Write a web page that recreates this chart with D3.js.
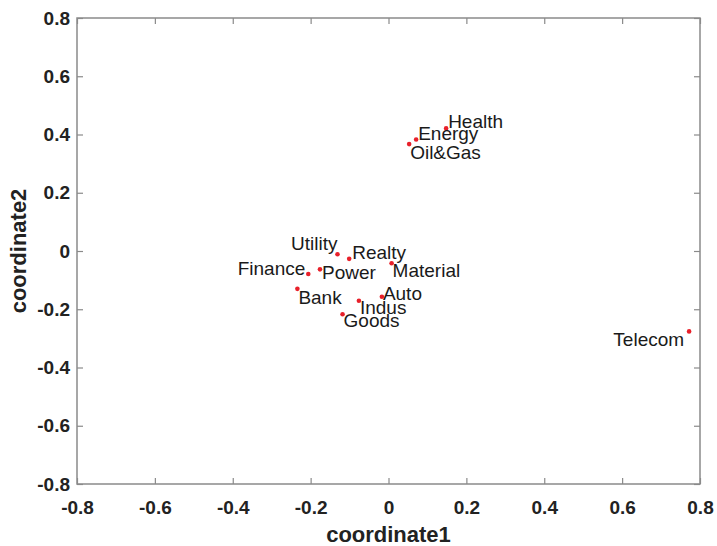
<!DOCTYPE html>
<html>
<head>
<meta charset="utf-8">
<script src="https://cdn.jsdelivr.net/npm/d3@7"></script>
<style>
  body { margin: 0; background: #fff; }
  svg { display: block; }
</style>
</head>
<body>
<div id="chart"></div>
<script>
(function() {

  // sector names and their two coordinates
  var sectors = ['Utility', 'Realty', 'Material', 'Finance', 'Power', 'Bank', 'Auto',
                 'Indus', 'Goods', 'Health', 'Energy', 'Oil&Gas', 'Telecom'];
  var coord1 = [-0.131, -0.101, 0.008, -0.206, -0.176, -0.234, -0.017,
                -0.076, -0.118, 0.148, 0.071, 0.053, 0.772];
  var coord2 = [-0.011, -0.027, -0.042, -0.079, -0.063, -0.130, -0.157,
                -0.171, -0.217, 0.421, 0.383, 0.367, -0.276];
  var ticks = [-0.8, -0.6, -0.4, -0.2, 0, 0.2, 0.4, 0.6, 0.8];
  var tickLabels = ['-0.8', '-0.6', '-0.4', '-0.2', '0', '0.2', '0.4', '0.6', '0.8'];

  // label placement next to each point: [dx, dy, anchor]
  var place = {
    'Utility': [0, -11, 'end'], 'Realty': [3, -7, 'start'], 'Material': [1, 7, 'start'],
    'Finance': [-3, -6, 'end'], 'Power': [2, 3, 'start'], 'Bank': [1, 8, 'start'],
    'Auto': [1, -3, 'start'], 'Indus': [1, 7, 'start'], 'Goods': [1, 6, 'start'],
    'Health': [2, -7, 'start'], 'Energy': [2, -6, 'start'], 'Oil&Gas': [1, 8, 'start'],
    'Telecom': [-5, 8, 'end']
  };

  var width = 717, height = 546,
      margin = {top: 18, right: 17, bottom: 62, left: 77};

  var x = d3.scaleLinear().domain([-0.8, 0.8]).range([margin.left, width - margin.right]);
  var y = d3.scaleLinear().domain([-0.8, 0.8]).range([height - margin.bottom, margin.top]);

  var svg = d3.select('#chart').append('svg')
    .attr('width', width)
    .attr('height', height)
    .style('font-family', 'Liberation Sans, Arial, sans-serif');

  var fmt = function(d) { return tickLabels[ticks.indexOf(d)]; };
  var axisColor = '#8a8a8a';

  function styleAxis(g) {
    g.select('.domain').remove();
    g.selectAll('.tick line').attr('stroke', axisColor).attr('stroke-width', 1.2);
    g.selectAll('.tick text')
      .attr('fill', '#222')
      .style('font-size', '19px')
      .style('font-weight', 'bold');
  }

  svg.append('g')
    .attr('transform', 'translate(0,' + y(-0.8) + ')')
    .call(d3.axisBottom(x).tickValues(ticks).tickFormat(fmt).tickSizeInner(-6).tickSizeOuter(0).tickPadding(17))
    .call(styleAxis);

  svg.append('g')
    .attr('transform', 'translate(0,' + y(0.8) + ')')
    .call(d3.axisTop(x).tickValues(ticks).tickFormat('').tickSizeInner(-6).tickSizeOuter(0))
    .call(styleAxis);

  svg.append('g')
    .attr('transform', 'translate(' + x(-0.8) + ',0)')
    .call(d3.axisLeft(y).tickValues(ticks).tickFormat(fmt).tickSizeInner(-6).tickSizeOuter(0).tickPadding(7))
    .call(styleAxis);

  svg.append('g')
    .attr('transform', 'translate(' + x(0.8) + ',0)')
    .call(d3.axisRight(y).tickValues(ticks).tickFormat('').tickSizeInner(-6).tickSizeOuter(0))
    .call(styleAxis);

  // box
  svg.append('rect')
    .attr('x', x(-0.8))
    .attr('y', y(0.8))
    .attr('width', x(0.8) - x(-0.8))
    .attr('height', y(-0.8) - y(0.8))
    .attr('fill', 'none')
    .attr('stroke', axisColor)
    .attr('stroke-width', 1.5);

  // axis titles
  svg.append('text')
    .attr('x', (x(-0.8) + x(0.8)) / 2)
    .attr('y', 542)
    .attr('text-anchor', 'middle')
    .style('font-size', '22px')
    .style('font-weight', 'bold')
    .attr('fill', '#222')
    .text('coordinate1');

  svg.append('text')
    .attr('transform', 'translate(26,' + (y(0.8) + y(-0.8)) / 2 + ') rotate(-90)')
    .attr('text-anchor', 'middle')
    .style('font-size', '22px')
    .style('font-weight', 'bold')
    .attr('fill', '#222')
    .text('coordinate2');

  var pts = sectors.map(function(s, i) { return {name: s, a: coord1[i], b: coord2[i]}; });

  svg.selectAll('circle.pt').data(pts).enter()
    .append('circle')
    .attr('class', 'pt')
    .attr('cx', function(d) { return x(d.a); })
    .attr('cy', function(d) { return y(d.b); })
    .attr('r', 2.3)
    .attr('fill', '#e8202a');

  svg.selectAll('text.lbl').data(pts).enter()
    .append('text')
    .attr('class', 'lbl')
    .attr('x', function(d) { return x(d.a) + place[d.name][0]; })
    .attr('y', function(d) { return y(d.b) + place[d.name][1]; })
    .attr('dy', '0.35em')
    .attr('text-anchor', function(d) { return place[d.name][2]; })
    .style('font-size', '19px')
    .attr('fill', '#1a1a1a')
    .text(function(d) { return d.name; });

})();
</script>
</body>
</html>
